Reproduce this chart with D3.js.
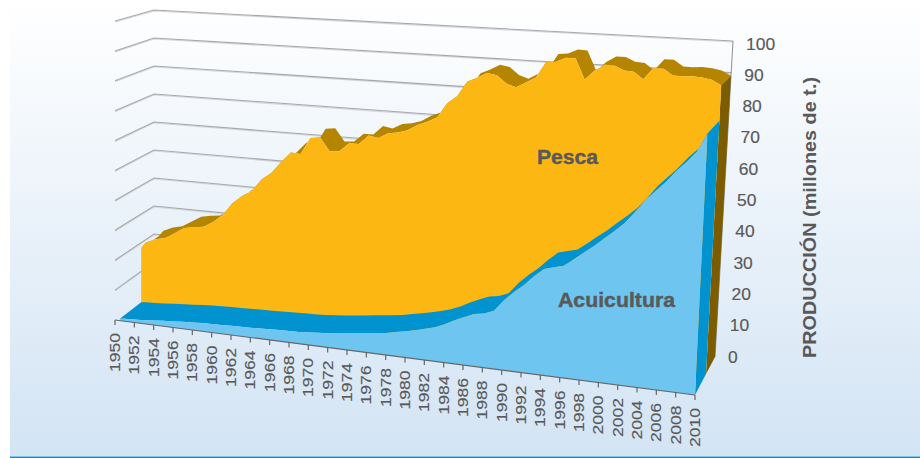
<!DOCTYPE html>
<html><head><meta charset="utf-8">
<style>html,body{margin:0;padding:0;background:#fff}svg{display:block}text{font-family:"Liberation Sans",Arial,sans-serif}</style>
<script src="https://cdn.jsdelivr.net/npm/d3@7"></script></head>
<body><div id="chart"></div>
<script>
const years = d3.range(1950, 2011);
const pesca = [19.4,21.5,23,23.8,25.8,27.9,28.5,29,31,33.7,38,40.8,42.8,47,49.5,53.5,57,56.7,62.4,62.8,58.5,58.8,61.7,61.7,64.8,64.2,66,66.5,67.5,69.5,70.8,72.4,77.3,79.8,84.8,86.2,88,87.5,85,84,85.8,87.6,92.7,93,94.5,94.4,88,91,93,93,91.6,91.4,89.3,93,93,91,91,91.2,91,90.5,89];
const acuicultura = [0.6,0.8,1,1.2,1.5,1.8,2,2.3,2.5,2.7,2.8,2.9,3,3.1,3.2,3.3,3.5,3.6,3.7,3.8,4,4.3,4.6,5,5.4,5.8,6.2,6.6,7,7.7,8.3,9,9.8,10.7,12,13.6,15,16.3,16.8,18,21.6,24.5,27,30,32.6,33.4,34.2,36.5,38.9,41.2,43.8,46.3,49,52.5,56.4,59.5,62.5,66,69,72.3,78];
const valueTicks = d3.range(0, 101, 10);
const yearTicks = d3.range(1950, 2011, 2);
const seriesLabels = ["Pesca", "Acuicultura"];
const axisTitle = "PRODUCCIÓN (millones de t.)";

const W = 920, H = 458;
// Box corners of the 3-D frame: [front/back][left/right][floor/top]
const box = {
  f:{l:{b:[115,320],t:[115,21]}, r:{b:[695,395],t:[711,60]}},
  k:{l:{b:[154,290],t:[154,10]}, r:{b:[715,357],t:[733,41]}}
};
const uScale = d3.scaleLinear().domain([1950,2010]).range([0,1]);
const vScale = d3.scaleLinear().domain([0,100]).range([0,1]);
const lerp = (a,b,t)=>[a[0]+(b[0]-a[0])*t, a[1]+(b[1]-a[1])*t];
function project(year, depth, value){
  const u=uScale(year), w=vScale(value);
  const fb=lerp(box.f.l.b,box.f.r.b,u), ft=lerp(box.f.l.t,box.f.r.t,u);
  const kb=lerp(box.k.l.b,box.k.r.b,u), kt=lerp(box.k.l.t,box.k.r.t,u);
  return lerp(lerp(fb,ft,w), lerp(kb,kt,w), depth);
}
const D_MID = 0.55;
const clampYear = y => Math.max(y, 1950.5);
const line = d3.line();
const svg = d3.select("#chart").append("svg").attr("width",W).attr("height",H);
const defs = svg.append("defs");
const g = defs.append("linearGradient").attr("id","bg").attr("x1",0).attr("x2",0).attr("y1",0).attr("y2",1);
g.append("stop").attr("offset","0%").attr("stop-color","#ffffff");
g.append("stop").attr("offset","100%").attr("stop-color","#d3e4f4");
svg.append("rect").attr("x",10).attr("y",0).attr("width",W-10).attr("height",456).attr("fill","url(#bg)");
svg.append("rect").attr("x",10).attr("y",456.5).attr("width",W-10).attr("height",1.5).attr("fill","#0a8cc8");

// gridlines
const gridG = svg.append("g").attr("fill","none");
function gridPath(v){ return line([project(1950,0,v),project(1950,1,v),project(2010,1,v)]); }
const gridVals = valueTicks.filter(v=>v>0);
gridG.selectAll("path.s").data(gridVals).join("path").attr("class","s").attr("d",gridPath).attr("stroke","#d4d8dc").attr("stroke-width",1.2).attr("transform","translate(0,1)");
gridG.selectAll("path.m").data(gridVals).join("path").attr("class","m").attr("d",gridPath).attr("stroke","#a6a8ab").attr("stroke-width",1.1);
gridG.append("path").attr("d",line([project(2010,1,0),project(2010,1,100)])).attr("stroke","#8d9094").attr("stroke-width",1);

function ribbon(values, d0, d1, fill){
  const segs = d3.pairs(years.map((y,i)=>({y,v:values[i]})));
  const d = segs.map(([a,b])=>line([project(clampYear(a.y),d0,a.v),project(b.y,d0,b.v),project(b.y,d1,b.v),project(clampYear(a.y),d1,a.v)])+"Z").join("");
  svg.append("path").attr("d",d).attr("fill",fill).attr("fill-rule","nonzero");
}
function endWall(values, d0, d1, fill){
  const v = values[values.length-1], y = years[years.length-1];
  svg.append("path").attr("d",line([project(y,d0,0),project(y,d1,0),project(y,d1,v),project(y,d0,v)])+"Z").attr("fill",fill);
}
function face(values, d, fill){
  const top = years.map((y,i)=>project(clampYear(y),d,values[i]));
  const base = [project(2010,d,0),project(1950.5,d,0)];
  svg.append("path").attr("d",line(top.concat(base))+"Z").attr("fill",fill);
}
ribbon(pesca, D_MID, 1, "#b58500");
endWall(pesca, D_MID, 1, "#7d5c00");
face(pesca, D_MID, "#fdb713");
ribbon(acuicultura, 0, D_MID, "#0093d0");
endWall(acuicultura, 0, D_MID, "#0093d0");
face(acuicultura, 0, "#6dc5f0");

// category axis
const axisG = svg.append("g");
axisG.append("path").attr("d",line([project(1950,0,0),project(2010,0,0)])).attr("stroke","#666").attr("stroke-width",1.2).attr("fill","none");
axisG.selectAll("line").data(yearTicks).join("line")
  .attr("x1",d=>project(d,0,0)[0]).attr("x2",d=>project(d,0,0)[0])
  .attr("y1",d=>project(d,0,0)[1]).attr("y2",d=>project(d,0,0)[1]+5)
  .attr("stroke","#666").attr("stroke-width",1.2);
axisG.selectAll("text").data(yearTicks).join("text")
  .attr("transform",d=>{const p=project(d,0,0);return `translate(${p[0]+5},${p[1]+13}) rotate(-90)`;})
  .attr("text-anchor","end").attr("font-size",15.5).attr("fill","#595959")
  .attr("stroke","#595959").attr("stroke-width",0.15)
  .attr("textLength",39).attr("lengthAdjust","spacingAndGlyphs").text(d=>d);

// value axis
svg.append("g").selectAll("text").data(valueTicks).join("text")
  .attr("x",d=>project(2010,1,d)[0]+13).attr("y",d=>project(2010,1,d)[1]+5.5+d*0.03)
  .attr("font-size",16).attr("fill","#595959").attr("stroke","#595959").attr("stroke-width",0.15)
  .attr("textLength",d=>String(d).length*9.7).attr("lengthAdjust","spacingAndGlyphs").text(d=>d);

svg.append("text").attr("transform","translate(816,358) rotate(-90)")
  .attr("font-size",18).attr("font-weight","bold").attr("fill","#595959")
  .attr("textLength",281).attr("lengthAdjust","spacingAndGlyphs").text(axisTitle);

const labelPos = [[537,164,61],[558,307,117]];
svg.append("g").selectAll("text").data(seriesLabels).join("text")
  .attr("x",(d,i)=>labelPos[i][0]).attr("y",(d,i)=>labelPos[i][1]).attr("textLength",(d,i)=>labelPos[i][2])
  .attr("lengthAdjust","spacingAndGlyphs").attr("font-size",19.5).attr("font-weight","bold")
  .attr("fill","#595959").attr("stroke","#595959").attr("stroke-width",0.4).text(d=>d);
</script></body></html>
